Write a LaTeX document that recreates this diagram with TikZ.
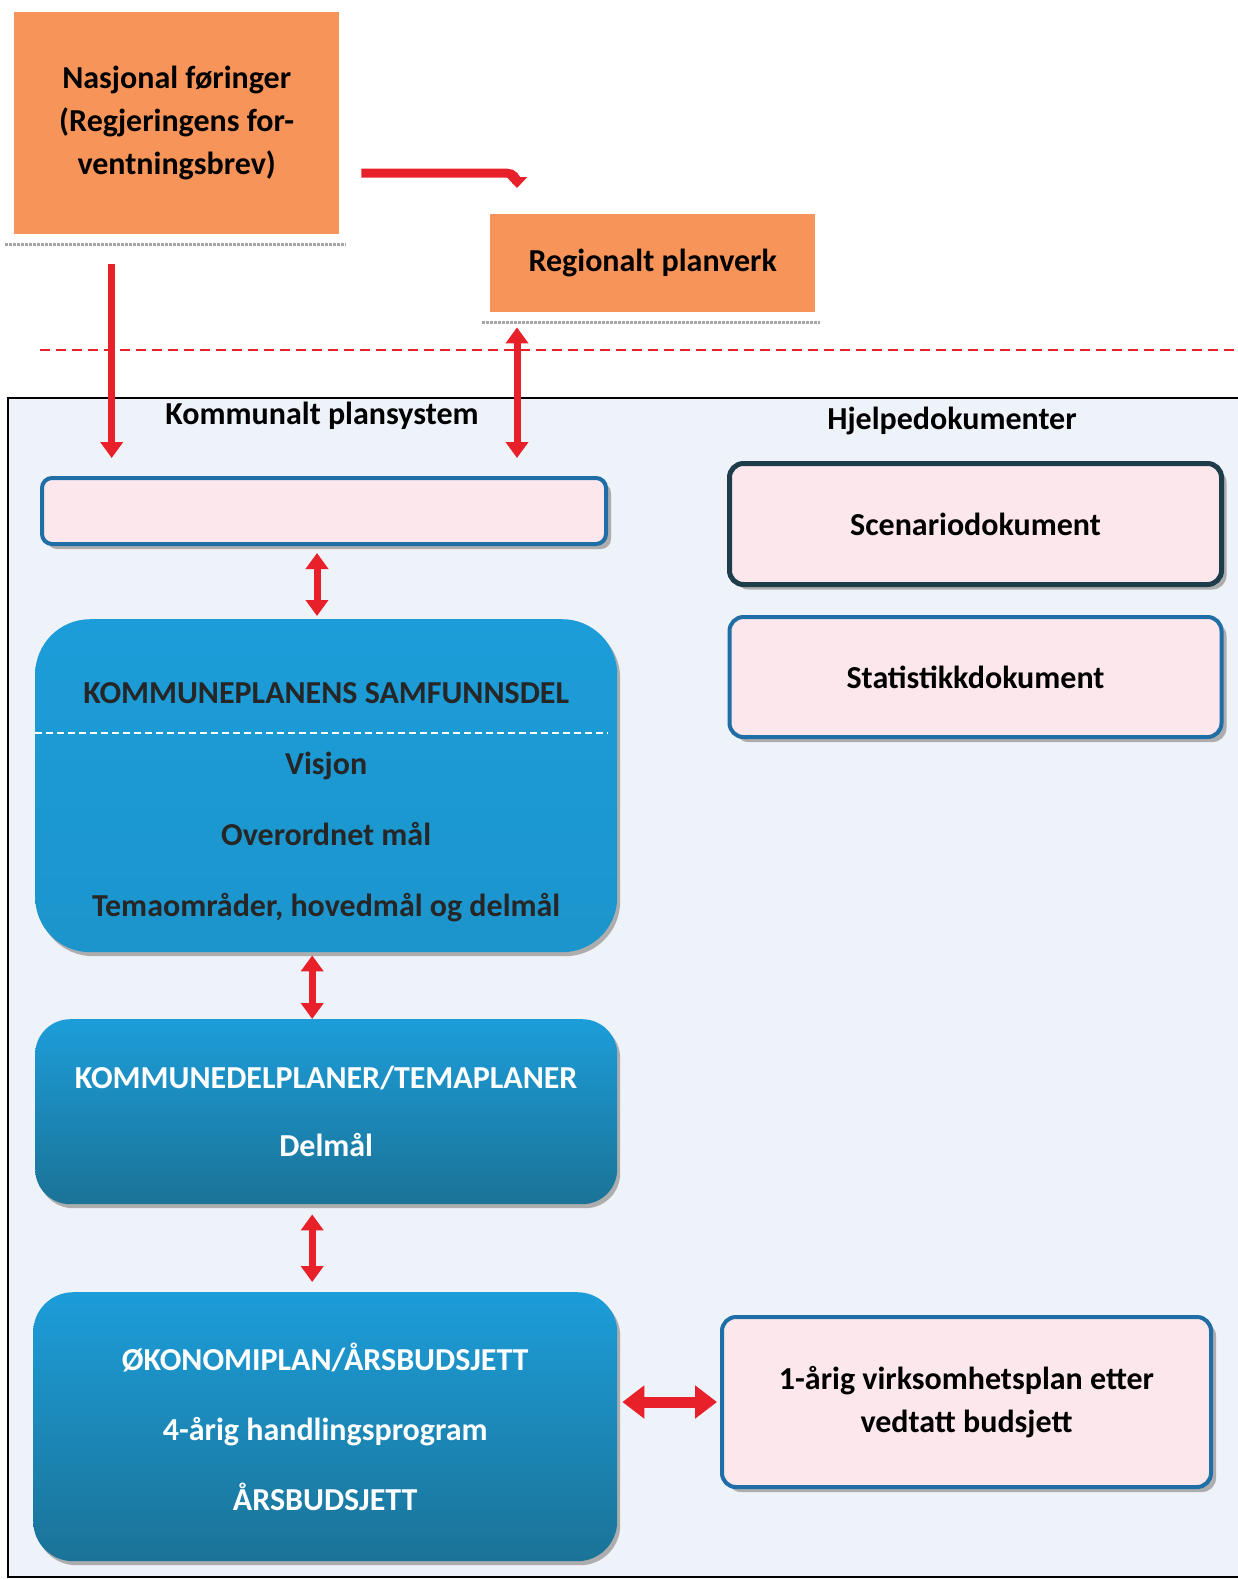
\documentclass[tikz,border=0pt]{standalone}
\usepackage{fontspec}
\setmainfont{Carlito}
\usetikzlibrary{arrows.meta,positioning,shadows,calc}

\definecolor{orangefill}{HTML}{F7945A}
\definecolor{arrowred}{HTML}{E8202A}
\definecolor{panelfill}{HTML}{EEF2F9}
\definecolor{pinkfill}{HTML}{FCE8EC}
\definecolor{docblue}{HTML}{1F6EA6}
\definecolor{docdark}{HTML}{1D3D4A}
\definecolor{planbluetop}{HTML}{1C9DD9}
\definecolor{planbluebot}{HTML}{1B7397}
\definecolor{darktext}{HTML}{262626}

\begin{document}
\begin{tikzpicture}[%
    x=1pt, y=-1pt,              % one unit is one pixel of the scan
    every node/.style={font=\fontsize{32}{38}\selectfont\bfseries},
    ]

\tikzset{
    orange/.style={fill=orangefill, align=center, inner sep=0pt, anchor=north west},
    docbox/.style={draw=docblue, line width=4pt, fill=pinkfill, rounded corners=14pt,
        align=center, inner sep=0pt, anchor=north west,
        drop shadow={shadow xshift=5pt, shadow yshift=-5pt, fill=gray!70, opacity=0.9}},
    planbox/.style={top color=planbluetop, bottom color=planbluebot, align=center,
        inner sep=0pt, anchor=north west, text=white,
        drop shadow={shadow xshift=3pt, shadow yshift=-4pt, fill=gray!70, opacity=0.9}},
    title/.style={text=black},
    shadowline/.style={gray!70, line width=3pt, densely dotted},
    sepline/.style={arrowred, line width=2.5pt, dash pattern=on 10pt off 6pt},
    % red connectors
    redarrow/.style={arrowred, line width=7pt, -{Triangle[width=22pt,length=16pt]}},
    redboth/.style={arrowred, line width=7pt,
        {Triangle[width=22pt,length=16pt]}-{Triangle[width=22pt,length=16pt]}},
    redwide/.style={arrowred, line width=11pt,
        {Triangle[width=32pt,length=22pt]}-{Triangle[width=32pt,length=22pt]}},
}

\useasboundingbox (0,0) rectangle (1238,1580);

%% outside the municipality
\node [orange, minimum width=325pt, minimum height=222pt,
       font=\fontsize{32}{43}\selectfont\bfseries] (nasj) at (14,12)
      {Nasjonal føringer\\(Regjeringens for-\\ventningsbrev)};
\draw[shadowline] ([xshift=-9pt,yshift=-10pt]nasj.south west) -- ([xshift=6pt,yshift=-10pt]nasj.south east);

\node [orange, minimum width=325pt, minimum height=98pt] (reg) at (490,214) {Regionalt planverk};
\draw[shadowline] ([xshift=-8pt,yshift=-10pt]reg.south west) -- ([xshift=5pt,yshift=-10pt]reg.south east);

\draw[arrowred, line width=9pt, rounded corners=10pt, -{Triangle[width=20pt,length=11pt]}]
    ([xshift=22pt,yshift=-50pt]nasj.east) -| ([xshift=27pt,yshift=26pt]reg.north west);

\draw[sepline] (40,350) -- (1240,350);

%% the municipal plan system
\draw[black, line width=2pt, fill=panelfill] (8,398) rectangle (1250,1577);

\node [title] (kps) at (322,416) {Kommunalt plansystem};
\node [title] (hjelp) at (952,421) {Hjelpedokumenter};

\node [docbox, minimum width=564pt, minimum height=66pt, rounded corners=10pt] (top) at (40,476) {};

\node [planbox, rounded corners=55pt, top color=planbluetop, bottom color=planbluetop!80!planbluebot,
       minimum width=582pt, minimum height=333pt] (samf) at (35,619) {};
\node [text=darktext, align=center, font=\fontsize{32}{71}\selectfont\bfseries] (samftxt)
      at ([yshift=-17pt]samf.center)
      {KOMMUNEPLANENS SAMFUNNSDEL\\Visjon\\Overordnet mål\\Temaområder, hovedmål og delmål};
\draw[white, line width=2pt, dash pattern=on 7pt off 4pt] (samf.west |- 0,733) -- ([xshift=-10pt]samf.east |- 0,733);

\node [planbox, rounded corners=35pt, minimum width=582pt, minimum height=185pt,
       font=\fontsize{32}{68}\selectfont\bfseries] (kdp) at (35,1019)
      {KOMMUNEDELPLANER/TEMAPLANER\\Delmål};

\node [planbox, rounded corners=40pt, minimum width=584pt, minimum height=269pt,
       font=\fontsize{32}{70}\selectfont\bfseries] (okon) at (33,1292)
      {ØKONOMIPLAN/ÅRSBUDSJETT\\4-årig handlingsprogram\\ÅRSBUDSJETT};

%% help documents
\node [docbox, draw=docdark, line width=5pt, minimum width=492pt, minimum height=121pt] (scen) at (727,461) {Scenariodokument};
\node [docbox, minimum width=492pt, minimum height=120pt, below=28pt of scen] (stat) {Statistikkdokument};
\node [docbox, minimum width=489pt, minimum height=170pt,
       font=\fontsize{32}{43}\selectfont\bfseries] (virk) at (720,1315)
      {1-årig virksomhetsplan etter\\vedtatt budsjett};

%% connectors
\path ([yshift=18pt]top.north) coordinate (toptop);
\path ([xshift=-65pt,yshift=-30pt]nasj.south) coordinate (nasjout);
\path ([xshift=27pt,yshift=-15pt]reg.south west) coordinate (regout);
\draw[redarrow] (nasjout) -- (nasjout |- toptop);
\draw[redboth] (regout) -- (regout |- toptop);

\draw[redboth] ([xshift=-7pt,yshift=-7pt]top.south) -- ([xshift=-7pt,yshift=3pt]top.south |- samf.north);
\draw[redboth] ([xshift=-14pt,yshift=-3pt]samf.south) -- ([xshift=-14pt]samf.south |- kdp.north);
\draw[redboth] ([xshift=-14pt,yshift=-10pt]kdp.south) -- ([xshift=-14pt,yshift=10pt]kdp.south |- okon.north);
\draw[redwide] ([xshift=5pt]virk.west -| okon.east) -- ([xshift=-3pt]virk.west);
\end{tikzpicture}
\end{document}
